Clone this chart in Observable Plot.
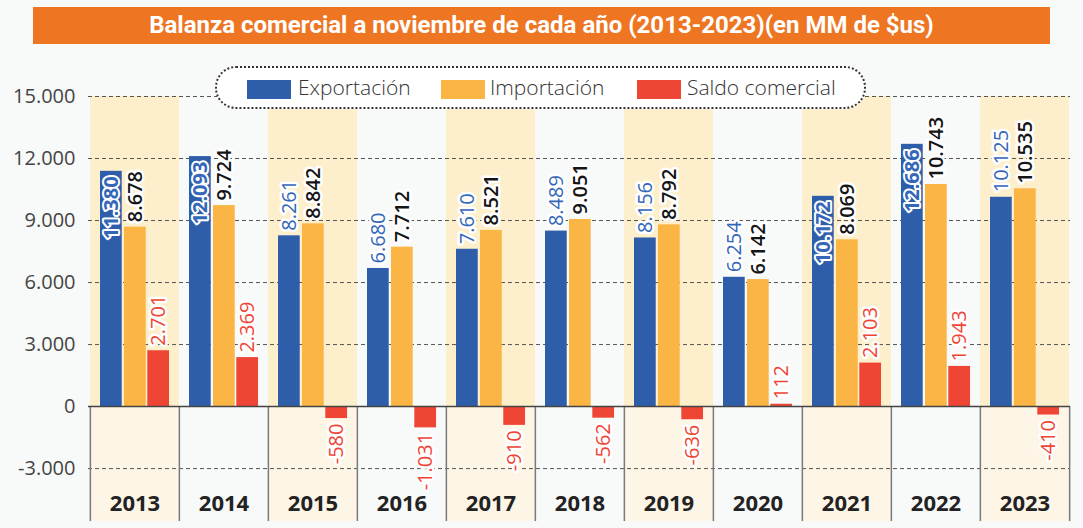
<!DOCTYPE html>
<html>
<head>
<meta charset="utf-8">
<script src="https://cdn.jsdelivr.net/npm/d3@7"></script>
<script src="https://cdn.jsdelivr.net/npm/@observablehq/plot@0.6"></script>
<style>
  html, body { margin: 0; padding: 0; background: #f8f9f9; }
  #wrap { position: relative; width: 1083px; height: 528px; overflow: hidden; }
  #title {
    position: absolute; left: 33px; top: 7px; width: 1017px; height: 37px;
    background: #ee7623; color: #fff; text-align: center; line-height: 37px;
    font-family: "Liberation Sans Narrow", "Roboto", "Liberation Sans", sans-serif;
    font-weight: 700; font-size: 24px; z-index: 2;
  }
  #legend {
    position: absolute; left: 215px; top: 66px; width: 651px; height: 43px;
    box-sizing: border-box; border: 2px dotted #333; border-radius: 21px;
    background: #fff; z-index: 2;
    font-family: "Open Sans", sans-serif; font-weight: 300; font-size: 21px; color: #333;
  }
  .sw { position: absolute; top: 12px; width: 44px; height: 19px; }
  .lt { position: absolute; top: 4px; line-height: 30px; white-space: nowrap; }
  #chart { position: absolute; left: 0; top: 0; z-index: 1; }
  #chart svg { color: #444; }
</style>
</head>
<body>
<div id="wrap">
  <div id="title"></div>
  <div id="legend"></div>
  <div id="chart"></div>
</div>
<script>
// ---- data ----
const years = ["2013","2014","2015","2016","2017","2018","2019","2020","2021","2022","2023"];
const exportacion = [11380, 12093, 8261, 6680, 7610, 8489, 8156, 6254, 10172, 12686, 10125];
const importacion = [8678, 9724, 8842, 7712, 8521, 9051, 8792, 6142, 8069, 10743, 10535];
const saldo = [2701, 2369, -580, -1031, -910, -562, -636, 112, 2103, 1943, -410];
const series = ["Exportación", "Importación", "Saldo comercial"];
const colors = ["#2e5ea9", "#fbb545", "#ef4535"];
const yTicks = [15000, 12000, 9000, 6000, 3000, 0, -3000];
const exportLabelInside = ["2013", "2014", "2021", "2022"];
const titleText = "Balanza comercial a noviembre de cada año (2013-2023)(en MM de $us)";

// ---- build ----
document.getElementById("title").textContent = titleText;
const legend = document.getElementById("legend");
const swX = [30, 224, 420];
const txX = [81, 273, 470];
series.forEach((s, i) => {
  const sw = document.createElement("div");
  sw.className = "sw"; sw.style.left = swX[i] + "px"; sw.style.background = colors[i];
  legend.appendChild(sw);
  const t = document.createElement("div");
  t.className = "lt"; t.style.left = txX[i] + "px"; t.textContent = s;
  legend.appendChild(t);
});

const loc = d3.formatLocale({decimal: ",", thousands: ".", grouping: [3], currency: ["$", ""], minus: "-"});
const fmt = loc.format(",d");

const rows = [];
years.forEach((year, i) => {
  rows.push({year, serie: series[0], value: exportacion[i]});
  rows.push({year, serie: series[1], value: importacion[i]});
  rows.push({year, serie: series[2], value: saldo[i]});
});
const expRows = rows.filter(d => d.serie === series[0]);
const impRows = rows.filter(d => d.serie === series[1]);
const salRows = rows.filter(d => d.serie === series[2]);

const W = 1083, H = 528, ML = 88, MR = 13, MT = 96, MB = 7;
const yMin = -5560, yMax = 15000;
const bw = (W - ML - MR) / years.length;
const oddYears = years.filter((_, i) => i % 2 === 0);
const labelFont = "Open Sans, sans-serif";
const slot = [{l: 10, r: bw - 32, dx: 21 - bw / 2},
              {l: 34, r: bw - 56, dx: 45 - bw / 2},
              {l: 57.3, r: bw - 79.3, dx: 68.3 - bw / 2}];
const halo = {stroke: "white", strokeWidth: 5, fontSize: 20, rotate: -90};

const chart = Plot.plot({
  width: W, height: H,
  marginLeft: ML, marginRight: MR, marginTop: MT, marginBottom: MB,
  style: {background: "transparent", fontFamily: labelFont, fontSize: "20px", overflow: "visible"},
  x: {domain: years, padding: 0, axis: null},
  y: {domain: [yMin, yMax], ticks: yTicks, tickFormat: fmt, tickSize: 0, tickPadding: 13, label: null},
  marks: [
    Plot.barY(oddYears, {x: d => d, y1: 0, y2: yMax, fill: "#fdefcc"}),
    Plot.barY(oddYears, {x: d => d, y1: yMin, y2: 0, fill: "#fdf5e6"}),
    Plot.ruleY(yTicks.filter(t => t !== 0), {stroke: "#555", strokeWidth: 1, strokeDasharray: "4,3"}),
    Plot.ruleX(years, {x: d => d, dx: -bw / 2, y1: yMin, y2: 0, stroke: "#7a7a7a", strokeWidth: 1.5}),
    Plot.ruleX(years.slice(-1), {x: d => d, dx: bw / 2, y1: yMin, y2: 0, stroke: "#7a7a7a", strokeWidth: 1.5}),
    Plot.barY(expRows, {x: "year", y: "value", fill: colors[0], insetLeft: slot[0].l, insetRight: slot[0].r}),
    Plot.barY(impRows, {x: "year", y: "value", fill: colors[1], insetLeft: slot[1].l, insetRight: slot[1].r}),
    Plot.barY(salRows, {x: "year", y: "value", fill: colors[2], insetLeft: slot[2].l, insetRight: slot[2].r}),
    Plot.ruleY([0], {stroke: "#444", strokeWidth: 1.5}),
    // labels
    Plot.text(expRows.filter(d => !exportLabelInside.includes(d.year)), {...halo, x: "year", y: "value", text: d => fmt(d.value), textAnchor: "start", dx: slot[0].dx, dy: -5, fill: "#3467b8", fontWeight: 500}),
    Plot.text(expRows.filter(d => exportLabelInside.includes(d.year)), {...halo, x: "year", y: "value", text: d => fmt(d.value), textAnchor: "end", dx: slot[0].dx, dy: 5, fill: "#3467b8", fontWeight: 700, strokeWidth: 4}),
    Plot.text(impRows, {...halo, x: "year", y: "value", text: d => fmt(d.value), textAnchor: "start", dx: slot[1].dx, dy: -5, fill: "#151515", fontWeight: 600}),
    Plot.text(salRows.filter(d => d.value >= 0), {...halo, x: "year", y: "value", text: d => fmt(d.value), textAnchor: "start", dx: slot[2].dx, dy: -5, fill: colors[2], fontWeight: 500}),
    Plot.text(salRows.filter(d => d.value < 0), {...halo, x: "year", y: "value", text: d => fmt(d.value), textAnchor: "end", dx: slot[2].dx, dy: 5, fill: colors[2], fontWeight: 500}),
    Plot.text(years, {x: d => d, frameAnchor: "bottom", dy: -11, text: d => d, fontWeight: 700, fontSize: 22, fill: "#222"})
  ]
});
document.getElementById("chart").appendChild(chart);
</script>
</body>
</html>
